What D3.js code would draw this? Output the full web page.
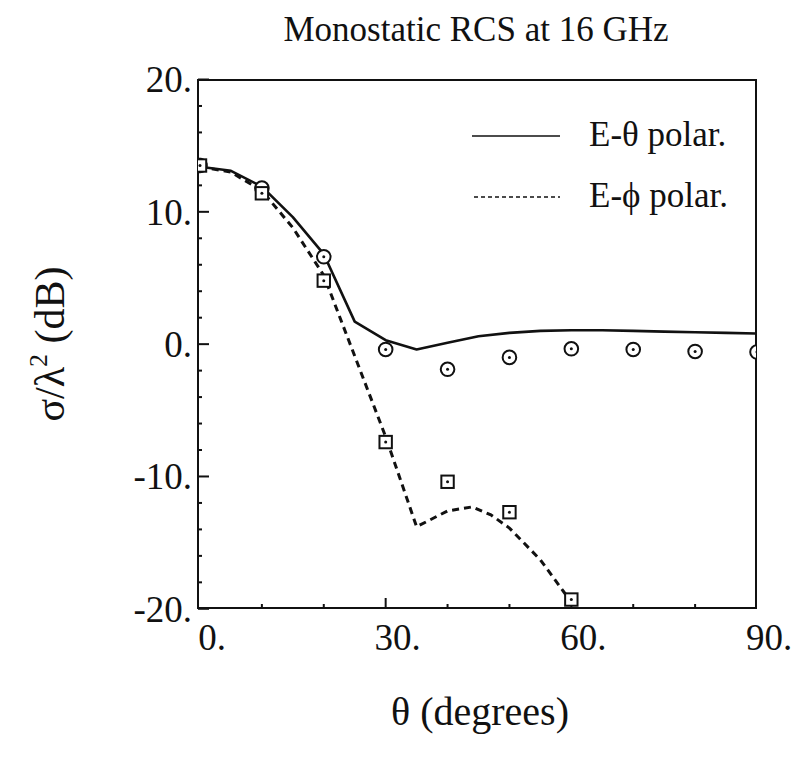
<!DOCTYPE html>
<html>
<head>
<meta charset="utf-8">
<script src="https://cdn.jsdelivr.net/npm/d3@7/dist/d3.min.js"></script>
<style>
  body { margin: 0; background: #fff; }
  svg { display: block; }
  text { font-family: "Liberation Serif", "Times New Roman", "DejaVu Serif", serif; fill: #111; }
</style>
</head>
<body>
<div id="chart"></div>
<script>
// ---- Data ----
const titleText = "Monostatic RCS at 16 GHz";
const xLabelText = "θ (degrees)";
const xTickLabels = [0, 30, 60, 90];
const yTickLabels = [20, 10, 0, -10, -20];

// E-theta polarization, computed (solid line)
const eThetaAngles = [0, 5, 10, 15, 20, 25, 30, 35, 40, 45, 50, 55, 60, 65, 70, 75, 80, 85, 90];
const eThetaCalc   = [13.4, 13.1, 11.9, 9.6, 6.8, 1.7, 0.3, -0.4, 0.1, 0.6, 0.85, 1.0, 1.05, 1.05, 1.0, 0.95, 0.9, 0.85, 0.8];

// E-phi polarization, computed (dashed line)
const ePhiAngles = [0, 5, 10, 15, 20, 25, 30, 35, 40, 44, 47, 50, 55, 60];
const ePhiCalc   = [13.4, 13.0, 11.6, 8.8, 5.2, -0.9, -7.0, -13.8, -12.6, -12.3, -12.9, -13.9, -16.3, -19.5];

// measured E-theta (circles)
const eThetaMeasAngles = [0, 10, 20, 30, 40, 50, 60, 70, 80, 90];
const eThetaMeas       = [13.5, 11.8, 6.6, -0.4, -1.9, -1.0, -0.35, -0.4, -0.55, -0.6];

// measured E-phi (squares)
const ePhiMeasAngles = [0, 10, 20, 30, 40, 50, 60];
const ePhiMeas       = [13.5, 11.4, 4.8, -7.4, -10.4, -12.7, -19.3];

const legendLabels = ["E-θ polar.", "E-ϕ polar."];

// ---- Layout ----
const W = 793, H = 762;
const frame = { left: 198, right: 756, top: 80, bottom: 608 };

const svg = d3.select("#chart").append("svg").attr("width", W).attr("height", H);

const x = d3.scaleLinear().domain([0, 90]).range([200, 757]);
const y = d3.scaleLinear().domain([-20, 20]).range([608.8, 79.5]);

// clip
svg.append("defs").append("clipPath").attr("id", "clip")
  .append("rect").attr("x", frame.left).attr("y", frame.top)
  .attr("width", frame.right - frame.left).attr("height", frame.bottom - frame.top);

// Title
svg.append("text").attr("x", 476).attr("y", 41).attr("text-anchor", "middle")
  .attr("font-size", 35).text(titleText);

// Y ticks (inside, on left)
const yMinor = d3.range(-20, 20.001, 2);
svg.append("g").selectAll("line").data(yMinor).join("line")
  .attr("x1", frame.left).attr("x2", d => frame.left + (d % 10 === 0 ? 11 : 4))
  .attr("y1", d => y(d)).attr("y2", d => y(d))
  .attr("stroke", "#111").attr("stroke-width", 2);

// X ticks (inside, on bottom)
const xMinor = d3.range(10, 90, 10);
svg.append("g").selectAll("line").data(xMinor).join("line")
  .attr("x1", d => x(d)).attr("x2", d => x(d))
  .attr("y1", frame.bottom).attr("y2", d => frame.bottom - (d % 30 === 0 ? 10 : 4))
  .attr("stroke", "#111").attr("stroke-width", 2);

// Frame
svg.append("rect").attr("x", frame.left).attr("y", frame.top)
  .attr("width", frame.right - frame.left).attr("height", frame.bottom - frame.top)
  .attr("fill", "none").attr("stroke", "#111").attr("stroke-width", 2);

// Y tick labels
svg.append("g").selectAll("text").data(yTickLabels).join("text")
  .attr("x", 192).attr("y", d => y(d)).attr("dy", "0.35em")
  .attr("text-anchor", "end").attr("font-size", 37)
  .text(d => d + ".");

// X tick labels
svg.append("g").selectAll("text").data(xTickLabels).join("text")
  .attr("x", d => x(d) + 12).attr("y", 650)
  .attr("text-anchor", "middle").attr("font-size", 37)
  .text(d => d + ".");

// Axis titles
svg.append("text").attr("x", 480).attr("y", 725).attr("text-anchor", "middle")
  .attr("font-size", 40).text(xLabelText);

const yl = svg.append("text").attr("transform", "translate(64,344) rotate(-90)")
  .attr("text-anchor", "middle").attr("font-size", 42);
yl.append("tspan").text("σ/λ");
yl.append("tspan").attr("font-size", 26).attr("dy", -17).text("2");
yl.append("tspan").attr("dy", 17).text(" (dB)");

// Lines
const plot = svg.append("g").attr("clip-path", "url(#clip)");
const line = d3.line().x(d => x(d[0])).y(d => y(d[1]));

plot.append("path").datum(d3.zip(eThetaAngles, eThetaCalc))
  .attr("d", line).attr("fill", "none").attr("stroke", "#111")
  .attr("stroke-width", 2.6).attr("stroke-linejoin", "round");

plot.append("path").datum(d3.zip(ePhiAngles, ePhiCalc))
  .attr("d", line).attr("fill", "none").attr("stroke", "#111")
  .attr("stroke-width", 3).attr("stroke-dasharray", "7,5");

// Circles (measured E-theta)
const circ = plot.append("g").selectAll("g").data(d3.zip(eThetaMeasAngles, eThetaMeas)).join("g")
  .attr("transform", d => `translate(${x(d[0])},${y(d[1])})`);
circ.append("circle").attr("r", 6.8).attr("fill", "#fff").attr("stroke", "#111").attr("stroke-width", 2);
circ.append("circle").attr("r", 1.5).attr("fill", "#111");

// Squares (measured E-phi)
const sq = plot.append("g").selectAll("g").data(d3.zip(ePhiMeasAngles, ePhiMeas)).join("g")
  .attr("transform", d => `translate(${x(d[0])},${y(d[1])})`);
sq.append("rect").attr("x", -6.2).attr("y", -6.2).attr("width", 12.4).attr("height", 12.4)
  .attr("fill", "#fff").attr("stroke", "#111").attr("stroke-width", 2);
sq.append("circle").attr("r", 1.5).attr("fill", "#111");

// Legend
svg.append("line").attr("x1", 472).attr("x2", 560).attr("y1", 136).attr("y2", 136)
  .attr("stroke", "#111").attr("stroke-width", 1.6);
svg.append("line").attr("x1", 474).attr("x2", 560).attr("y1", 197).attr("y2", 197)
  .attr("stroke", "#111").attr("stroke-width", 1.6).attr("stroke-dasharray", "4,3");
svg.append("g").selectAll("text").data(legendLabels).join("text")
  .attr("x", 589).attr("y", (d, i) => 146 + i * 61)
  .attr("font-size", 35).text(d => d);
</script>
</body>
</html>
